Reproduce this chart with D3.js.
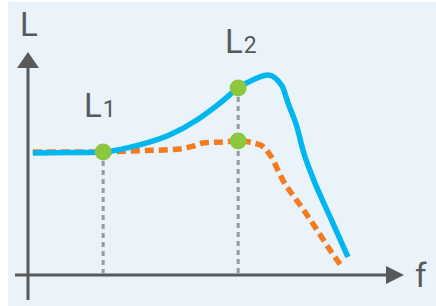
<!DOCTYPE html>
<html>
<head>
<meta charset="utf-8">
<script src="https://cdn.jsdelivr.net/npm/d3@7"></script>
<style>
  body { margin: 0; background: #fff; }
  text { font-family: Roboto, sans-serif; font-weight: 400; fill: #58595b; }
</style>
</head>
<body>
<div class="board"></div>
<script>
// frequency (f) positions and level (L) values
var freqA = [1.3, 11, 20.2, 30, 38, 45.4, 51.6, 56.5, 61, 64.5, 68.3, 69.9, 72.3, 73.9, 76.6, 81.2, 86];
var levelA = [54.2, 54.4, 54.7, 57.8, 62.2, 68.9, 76.4, 83.1, 87.1, 88.9, 84, 76.4, 65.8, 55.6, 43.1, 25.8, 8];

var freqB = [1.3, 20.2, 27.4, 40.9, 44.4, 47, 52.4, 56.5, 62.4, 65.1, 68.5, 73.7, 77.7, 81.2, 84.4];
var levelB = [54.7, 54.7, 55.1, 56, 57.3, 58.7, 59.1, 59.6, 57.8, 53.3, 42.2, 29.8, 20, 11.1, 3.6];

var markFreq = [20.2, 56.5, 56.5];
var markLevel = [54.7, 83.1, 59.6];

var labelMain = ["L", "1"];
var labelSecond = ["L", "2"];

var boardInfo = {
  width: 436,
  height: 306
};

var svg = d3.select(".board").append("svg")
  .attr("width", boardInfo.width)
  .attr("height", boardInfo.height);

svg.append("rect")
  .attr("x", 8).attr("y", 2)
  .attr("width", 428).attr("height", 304)
  .attr("fill", "#e9f3f9");

var x = d3.scaleLinear().domain([0, 100]).range([28, 400]);
var y = d3.scaleLinear().domain([0, 100]).range([275, 50]);

var axisColor = "#58595b";

// axes with arrowheads
svg.append("line")
  .attr("x1", x(0)).attr("x2", x(0))
  .attr("y1", 300).attr("y2", 66)
  .attr("stroke", axisColor).attr("stroke-width", 3);
svg.append("path")
  .attr("d", "M" + (x(0) - 11) + ",68 L" + x(0) + ",52 L" + (x(0) + 11) + ",68 Z")
  .attr("fill", axisColor);

svg.append("line")
  .attr("x1", 15).attr("x2", 388)
  .attr("y1", y(0)).attr("y2", y(0))
  .attr("stroke", axisColor).attr("stroke-width", 3);
svg.append("path")
  .attr("d", "M386," + (y(0) - 9) + " L404," + y(0) + " L386," + (y(0) + 9) + " Z")
  .attr("fill", axisColor);

// dotted drop lines
svg.selectAll(".drop").data([0, 1])
  .enter().append("line")
  .attr("class", "drop")
  .attr("x1", function(i) { return x(markFreq[i]); })
  .attr("x2", function(i) { return x(markFreq[i]); })
  .attr("y1", function(i) { return y(markLevel[i]); })
  .attr("y2", y(0) - 2)
  .attr("stroke", "#999a9c")
  .attr("stroke-width", 3)
  .attr("stroke-dasharray", "5,4");

var line = d3.line()
  .x(function(d) { return x(d[0]); })
  .y(function(d) { return y(d[1]); })
  .curve(d3.curveMonotoneX);

svg.append("path")
  .datum(d3.zip(freqB, levelB))
  .attr("d", line)
  .attr("fill", "none")
  .attr("stroke", "#f47b20")
  .attr("stroke-width", 5.5)
  .attr("stroke-dasharray", "9,5");

svg.append("path")
  .datum(d3.zip(freqA, levelA))
  .attr("d", line)
  .attr("fill", "none")
  .attr("stroke", "#00b6ee")
  .attr("stroke-width", 5.5);

svg.selectAll(".dot").data(d3.zip(markFreq, markLevel))
  .enter().append("circle")
  .attr("class", "dot")
  .attr("cx", function(d) { return x(d[0]); })
  .attr("cy", function(d) { return y(d[1]); })
  .attr("r", 8.5)
  .attr("fill", "#8dc63f");

// labels
svg.append("text").attr("x", 20).attr("y", 36)
  .attr("font-size", 33).text("L");
svg.append("text").attr("x", 415).attr("y", 287)
  .attr("font-size", 33).text("f");

var t1 = svg.append("text").attr("x", 84).attr("y", 117).attr("font-size", 33);
t1.append("tspan").text(labelMain[0]);
t1.append("tspan").attr("font-size", 23).attr("dx", 1).text(labelMain[1]);

var t2 = svg.append("text").attr("x", 225).attr("y", 53).attr("font-size", 33);
t2.append("tspan").text(labelSecond[0]);
t2.append("tspan").attr("font-size", 23).attr("dx", 1).text(labelSecond[1]);
</script>
</body>
</html>
